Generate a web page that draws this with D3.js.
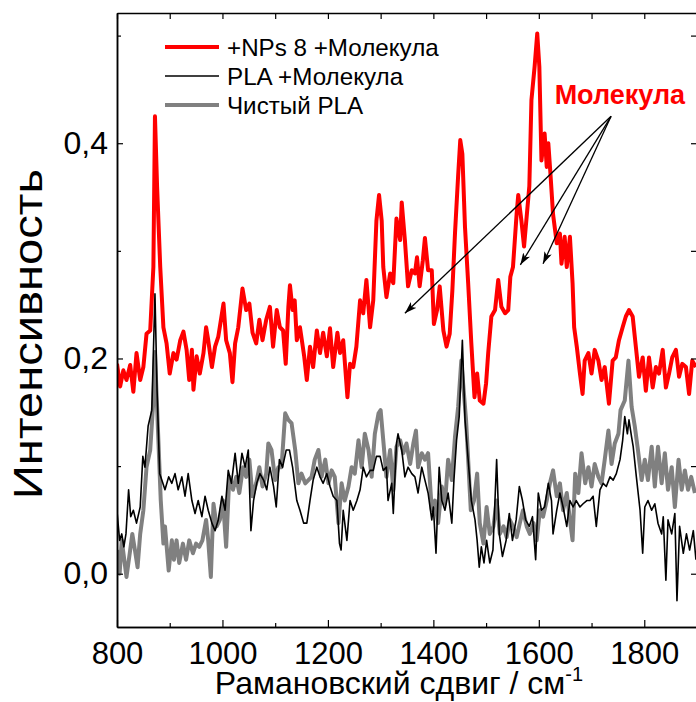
<!DOCTYPE html>
<html>
<head>
<meta charset="utf-8">
<script src="https://cdn.jsdelivr.net/npm/d3@7"></script>
<style>
  body { margin: 0; background: #fff; }
  text { font-family: Arial, "Liberation Sans", sans-serif; fill: #000; }
</style>
</head>
<body>
<svg id="chart" width="696" height="702"></svg>
<script>
// Raman spectra, [shift cm-1, intensity]
const npsMol = [
  [800,.195],[806,.174],[812,.189],[818,.180],[825,.194],[831,.169],[837,.205],[844,.180],[850,.192],[856,.223],
  [863,.226],[869,.285],[872,.425],[876,.360],[882,.285],[888,.229],[894,.214],[900,.186],[907,.205],[913,.199],
  [920,.217],[926,.225],[932,.208],[937,.180],[942,.208],[945,.171],[951,.202],[957,.186],[964,.205],[969,.229],
  [973,.217],[980,.192],[986,.211],[992,.220],[1002,.251],[1007,.217],[1014,.205],[1019,.178],[1024,.214],[1030,.229],
  [1038,.265],[1045,.245],[1051,.251],[1057,.224],[1064,.214],[1070,.236],[1076,.217],[1083,.236],[1090,.248],[1096,.211],
  [1103,.245],[1109,.229],[1115,.226],[1120,.195],[1125,.248],[1128,.268],[1133,.245],[1137,.254],[1141,.217],[1147,.229],
  [1155,.202],[1160,.180],[1166,.211],[1172,.192],[1179,.226],[1185,.205],[1191,.224],[1198,.202],[1204,.228],[1210,.192],
  [1218,.224],[1223,.205],[1229,.217],[1237,.164],[1242,.195],[1248,.192],[1254,.211],[1261,.254],[1267,.242],[1273,.273],
  [1280,.229],[1286,.254],[1292,.328],[1297,.352],[1302,.328],[1305,.285],[1311,.257],[1318,.279],[1324,.270],[1330,.330],
  [1337,.310],[1340,.345],[1346,.310],[1352,.267],[1359,.282],[1365,.279],[1369,.294],[1374,.267],[1380,.291],[1384,.312],
  [1390,.282],[1397,.282],[1401,.232],[1407,.245],[1412,.267],[1419,.226],[1425,.211],[1431,.223],[1436,.263],[1441,.316],
  [1447,.370],[1451,.403],[1455,.390],[1460,.322],[1466,.270],[1472,.214],[1478,.164],[1483,.186],[1488,.161],[1495,.158],
  [1500,.177],[1504,.205],[1510,.239],[1517,.245],[1523,.273],[1529,.248],[1536,.242],[1542,.245],[1546,.276],[1551,.285],
  [1558,.335],[1561,.352],[1567,.328],[1572,.304],[1577,.332],[1582,.360],[1586,.440],[1592,.471],[1597,.502],[1601,.471],
  [1605,.384],[1611,.409],[1615,.378],[1618,.400],[1622,.372],[1627,.334],[1634,.307],[1640,.316],[1643,.288],[1649,.313],
  [1653,.285],[1659,.313],[1664,.270],[1667,.229],[1672,.211],[1678,.186],[1683,.167],[1687,.198],[1694,.205],[1700,.186],
  [1706,.208],[1713,.198],[1719,.180],[1725,.192],[1733,.158],[1740,.198],[1746,.201],[1752,.217],[1759,.229],[1765,.239],
  [1771,.245],[1778,.239],[1784,.211],[1790,.183],[1797,.201],[1803,.170],[1809,.201],[1816,.173],[1822,.192],[1828,.186],
  [1835,.208],[1841,.173],[1847,.186],[1853,.201],[1860,.208],[1866,.183],[1872,.195],[1879,.192],[1885,.167],[1891,.198],
  [1898,.192]
];

const plaMol = [
  [800,.058],[805,.031],[809,.037],[813,.025],[817,.037],[822,.078],[826,.053],[831,.059],[837,.047],[844,.062],
  [849,.109],[853,.099],[859,.137],[866,.152],[872,.260],[876,.170],[881,.093],[885,.087],[891,.078],[898,.090],
  [904,.084],[910,.093],[916,.078],[923,.090],[929,.072],[935,.093],[942,.068],[948,.056],[954,.068],[961,.053],
  [967,.072],[973,.059],[980,.047],[986,.040],[992,.050],[999,.072],[1005,.059],[1011,.096],[1017,.084],[1024,.112],
  [1030,.084],[1037,.112],[1043,.099],[1049,.115],[1054,.040],[1059,.068],[1065,.084],[1071,.093],[1078,.087],[1084,.078],
  [1090,.099],[1097,.081],[1102,.062],[1108,.106],[1114,.099],[1121,.115],[1127,.115],[1133,.099],[1141,.068],[1147,.059],
  [1154,.047],[1160,.047],[1166,.068],[1172,.087],[1179,.099],[1185,.090],[1191,.084],[1198,.093],[1204,.081],[1210,.072],
  [1217,.068],[1222,.028],[1225,.022],[1229,.059],[1236,.031],[1242,.068],[1248,.059],[1255,.068],[1261,.078],[1267,.099],
  [1273,.090],[1280,.096],[1286,.096],[1292,.109],[1299,.109],[1305,.096],[1311,.099],[1314,.068],[1321,.084],[1324,.056],
  [1330,.121],[1333,.130],[1340,.115],[1346,.090],[1352,.099],[1359,.093],[1365,.090],[1371,.075],[1378,.099],[1384,.087],
  [1390,.075],[1397,.050],[1400,.062],[1405,.019],[1411,.099],[1416,.068],[1422,.059],[1428,.075],[1435,.047],[1439,.087],
  [1444,.124],[1449,.146],[1455,.217],[1460,.143],[1466,.106],[1472,.068],[1479,.050],[1483,.031],[1487,.006],[1491,.025],
  [1496,.010],[1501,.031],[1507,.010],[1513,.022],[1520,.106],[1525,.037],[1531,.016],[1538,.031],[1544,.056],[1550,.031],
  [1557,.050],[1563,.081],[1569,.068],[1575,.050],[1582,.044],[1588,.053],[1594,.013],[1599,.075],[1605,.059],[1611,.062],
  [1618,.084],[1624,.068],[1627,.037],[1634,.059],[1640,.075],[1646,.062],[1653,.044],[1659,.068],[1665,.062],[1671,.068],
  [1678,.062],[1684,.065],[1691,.068],[1697,.068],[1703,.072],[1709,.044],[1716,.078],[1722,.084],[1728,.081],[1735,.090],
  [1741,.087],[1747,.093],[1754,.106],[1759,.124],[1763,.146],[1768,.130],[1771,.143],[1776,.127],[1779,.118],[1785,.090],
  [1792,.059],[1797,.019],[1801,.062],[1807,.068],[1814,.059],[1820,.065],[1826,.047],[1833,.037],[1836,.053],[1841,-.006],
  [1845,.050],[1852,.037],[1858,.056],[1862,-.025],[1867,.044],[1874,.019],[1880,.037],[1886,.022],[1893,.040],[1898,.013]
];

const plaPure = [
  [800,.022],[805,.000],[809,.031],[813,.016],[818,-.003],[825,.022],[829,.037],[834,.022],[839,.006],[844,.037],
  [850,.059],[856,.099],[863,.115],[869,.161],[872,.206],[878,.130],[883,.068],[888,.028],[891,.044],[898,.003],
  [904,.031],[908,.013],[913,.031],[918,.010],[925,.028],[931,.013],[937,.031],[944,.019],[950,.028],[956,.025],
  [962,.031],[969,.050],[973,.031],[978,-.003],[983,.065],[989,.044],[995,.050],[1001,.068],[1007,.025],[1013,.090],
  [1020,.078],[1026,.090],[1032,.075],[1039,.099],[1045,.090],[1051,.106],[1057,.072],[1064,.084],[1070,.099],[1076,.081],
  [1083,.093],[1087,.121],[1093,.115],[1100,.087],[1106,.099],[1112,.099],[1119,.149],[1125,.143],[1131,.140],[1138,.115],
  [1144,.084],[1150,.093],[1157,.084],[1163,.087],[1169,.090],[1175,.106],[1182,.115],[1188,.090],[1195,.106],[1201,.084],
  [1207,.096],[1213,.090],[1220,.047],[1226,.084],[1232,.068],[1239,.081],[1245,.099],[1251,.093],[1258,.124],[1264,.099],
  [1270,.130],[1277,.115],[1283,.090],[1289,.130],[1296,.149],[1300,.152],[1305,.124],[1311,.090],[1318,.115],[1324,.078],
  [1330,.118],[1337,.124],[1343,.112],[1349,.121],[1356,.102],[1362,.121],[1367,.133],[1371,.099],[1378,.112],[1384,.106],
  [1390,.112],[1397,.059],[1403,.068],[1409,.047],[1416,.081],[1422,.065],[1428,.106],[1435,.087],[1441,.127],[1447,.155],
  [1453,.198],[1462,.143],[1466,.106],[1471,.059],[1477,.068],[1483,.093],[1488,.047],[1495,.028],[1501,.062],[1507,.037],
  [1514,.044],[1520,.068],[1526,.037],[1533,.044],[1539,.034],[1545,.050],[1551,.044],[1558,.034],[1564,.047],[1570,.059],
  [1577,.044],[1583,.037],[1590,.047],[1596,.031],[1602,.059],[1608,.053],[1615,.068],[1621,.084],[1627,.096],[1634,.072],
  [1640,.084],[1646,.059],[1653,.075],[1659,.050],[1664,.031],[1669,.093],[1675,.075],[1681,.112],[1688,.084],[1694,.099],
  [1700,.081],[1706,.102],[1713,.090],[1719,.084],[1725,.106],[1732,.133],[1738,.102],[1744,.121],[1751,.130],[1755,.152],
  [1763,.161],[1770,.198],[1776,.155],[1782,.137],[1788,.115],[1795,.087],[1801,.106],[1807,.087],[1814,.118],[1820,.081],
  [1826,.118],[1833,.084],[1839,.112],[1845,.078],[1852,.099],[1858,.062],[1865,.106],[1871,.078],[1877,.096],[1883,.078],
  [1889,.090],[1896,.075]
];

const xMajor = [800, 1000, 1200, 1400, 1600, 1800];
const xMinor = [900, 1100, 1300, 1500, 1700, 1900];
const yMajor = [0, 0.2, 0.4];
const yMinor = [0.1, 0.3, 0.5];

const legendNames = ['+NPs 8 +Молекула', 'PLA +Молекула', 'Чистый PLA'];
const annoLabel = 'Молекула';
const annoFrom = [1737, 0.425];
const annoTargets = [[1346, 0.242], [1565, 0.287], [1608, 0.288]];

const margin = { top: 13, right: -1, bottom: 75, left: 117 };
const W = 696, H = 702;
const width = W - margin.left - margin.right;
const height = H - margin.top - margin.bottom;

const svg = d3.select('#chart');
const g = svg.append('g').attr('transform', `translate(${margin.left},${margin.top})`);

const x = d3.scaleLinear().domain([800, 1900]).range([0, width]);
const y = d3.scaleLinear().domain([-0.0495, 0.521]).range([height, 0]);

g.append('clipPath').attr('id', 'clip')
  .append('rect').attr('width', width).attr('height', height);

const line = d3.line().x(d => x(d[0])).y(d => y(d[1]));

const series = [
  { data: npsMol, color: '#ff0000', w: 4 },
  { data: plaPure, color: '#808080', w: 4 },
  { data: plaMol, color: '#000000', w: 1.6 }
];
series.forEach(s => {
  g.append('path')
    .datum(s.data)
    .attr('clip-path', 'url(#clip)')
    .attr('fill', 'none')
    .attr('stroke', s.color)
    .attr('stroke-width', s.w)
    .attr('stroke-linejoin', 'round')
    .attr('d', line);
});

// axes, ticks inward on all four sides
const yFmt = d => d3.format('.1f')(d).replace('.', ',');
function styleAxis(sel) {
  sel.select('.domain').attr('stroke', '#000').attr('stroke-width', 1.5);
  sel.selectAll('.tick line').attr('stroke', '#000').attr('stroke-width', 1.2);
  sel.selectAll('text').style('font-size', '31px').attr('fill', '#000');
}
g.append('g').attr('transform', `translate(0,${height})`)
  .call(d3.axisBottom(x).tickValues(xMajor).tickSize(-7).tickSizeOuter(0).tickPadding(16).tickFormat(d3.format('d')))
  .call(styleAxis)
  .selectAll('text').attr('dy', '0.69em');
g.append('g').attr('transform', `translate(0,${height})`)
  .call(d3.axisBottom(x).tickValues(xMinor).tickSize(-4).tickSizeOuter(0).tickFormat(''))
  .call(styleAxis);
g.append('g')
  .call(d3.axisTop(x).tickValues(xMajor.concat(xMinor)).tickSize(-6).tickSizeOuter(0).tickFormat(''))
  .call(styleAxis);
g.append('g')
  .call(d3.axisLeft(y).tickValues(yMajor).tickSize(-6).tickSizeOuter(0).tickPadding(9).tickFormat(yFmt))
  .call(styleAxis)
  .selectAll('text').style('font-size', '32px');
g.append('g')
  .call(d3.axisLeft(y).tickValues(yMinor).tickSize(-4).tickSizeOuter(0).tickFormat(''))
  .call(styleAxis);
g.append('g').attr('transform', `translate(${width},0)`)
  .call(d3.axisRight(y).tickValues(yMajor.concat(yMinor)).tickSize(-6).tickSizeOuter(0).tickFormat(''))
  .call(styleAxis);

// axis titles
const xt = svg.append('text')
  .attr('x', 399).attr('y', 694)
  .attr('text-anchor', 'middle')
  .style('font-size', '32px');
xt.append('tspan').text('Рамановский сдвиг / см');
xt.append('tspan').attr('dy', -13).style('font-size', '20px').text('-1');

svg.append('text')
  .attr('transform', `translate(42,${334}) rotate(-90)`)
  .attr('text-anchor', 'middle')
  .attr('textLength', 330)
  .attr('lengthAdjust', 'spacingAndGlyphs')
  .style('font-size', '40px')
  .text('Интенсивность');

// legend
const legend = g.append('g').attr('transform', 'translate(48,34)');
legendNames.forEach((name, i) => {
  const s = [series[0], series[2], series[1]][i];
  const row = legend.append('g').attr('transform', `translate(0,${i * 29})`);
  row.append('line').attr('x1', 0).attr('x2', 54)
    .attr('stroke', s.color).attr('stroke-width', s.w);
  row.append('text').attr('x', 62).attr('y', 8.5)
    .style('font-size', '24.2px').text(name);
});

// annotation with arrows
svg.append('defs').append('marker')
  .attr('id', 'arrow').attr('viewBox', '0 0 12 8')
  .attr('refX', 12).attr('refY', 4)
  .attr('markerWidth', 12).attr('markerHeight', 8)
  .attr('markerUnits', 'userSpaceOnUse')
  .attr('orient', 'auto')
  .append('path').attr('d', 'M0,0 L12,4 L0,8 L3,4 Z').attr('fill', '#000');

annoTargets.forEach(t => {
  g.append('line')
    .attr('x1', x(annoFrom[0])).attr('y1', y(annoFrom[1]))
    .attr('x2', x(t[0])).attr('y2', y(t[1]))
    .attr('stroke', '#000').attr('stroke-width', 1.3)
    .attr('marker-end', 'url(#arrow)');
});
g.append('text')
  .attr('x', x(1630)).attr('y', y(0.436))
  .style('font-size', '27px').style('font-weight', 'bold')
  .attr('fill', '#ff0000').style('fill', '#ff0000')
  .text(annoLabel);
</script>
</body>
</html>
